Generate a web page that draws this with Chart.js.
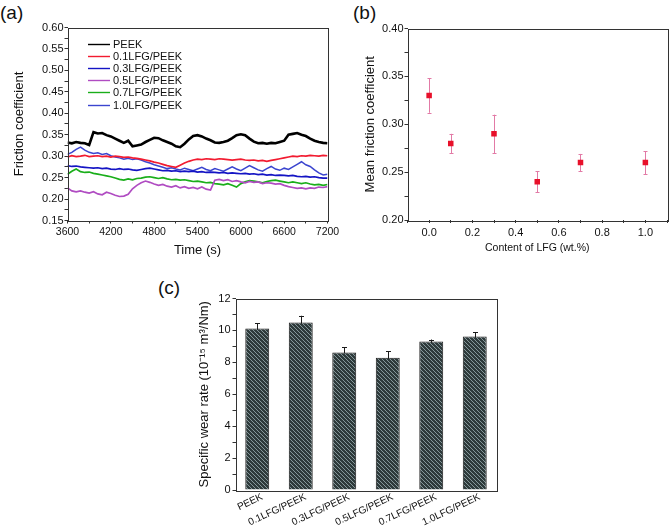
<!DOCTYPE html>
<html><head><meta charset="utf-8">
<script src="https://cdn.jsdelivr.net/npm/chart.js@4"></script>
<style>
html,body{margin:0;padding:0;background:#fff;width:671px;height:531px;overflow:hidden;position:relative;font-family:"Liberation Sans",Arial,sans-serif;}
canvas{position:absolute;}
.lbl{position:absolute;font-size:19px;line-height:19px;color:#111;white-space:nowrap;}
</style></head><body>
<div class="lbl" style="left:0px;top:3px">(a)</div>
<div class="lbl" style="left:353px;top:3px">(b)</div>
<div class="lbl" style="left:158px;top:278px">(c)</div>
<canvas id="cb" width="336" height="265" style="left:335px;top:0px"></canvas>
<canvas id="ca" width="347" height="265" style="left:0px;top:0px"></canvas>
<canvas id="cc" width="400" height="256" style="left:130px;top:275px"></canvas>
<script>
// ---------- data: panel (a) friction coefficient vs time ----------
const times = [3600,3660,3720,3780,3840,3900,3960,4020,4080,4140,4200,4260,4320,4380,4440,4500,4560,4620,4680,4740,4800,4860,4920,4980,5040,5100,5160,5220,5280,5340,5400,5460,5520,5580,5640,5700,5760,5820,5880,5940,6000,6060,6120,6180,6240,6300,6360,6420,6480,6540,6600,6660,6720,6780,6840,6900,6960,7020,7080,7140,7200];
const seriesNames = ['PEEK','0.1LFG/PEEK','0.3LFG/PEEK','0.5LFG/PEEK','0.7LFG/PEEK','1.0LFG/PEEK'];
const fcPEEK = [0.332,0.330,0.333,0.331,0.330,0.326,0.356,0.353,0.354,0.349,
 0.346,0.341,0.336,0.331,0.336,0.323,0.325,0.327,0.333,0.338,
 0.343,0.342,0.337,0.333,0.329,0.323,0.321,0.329,0.339,0.347,
 0.349,0.346,0.341,0.337,0.332,0.331,0.333,0.336,0.342,0.349,
 0.351,0.349,0.341,0.334,0.330,0.331,0.329,0.331,0.330,0.333,
 0.336,0.350,0.352,0.354,0.350,0.347,0.341,0.336,0.333,0.331,
 0.330];
const fc01 = [0.298,0.301,0.299,0.300,0.302,0.299,0.300,0.301,0.299,0.300,
 0.298,0.300,0.299,0.297,0.298,0.296,0.295,0.293,0.291,0.289,
 0.286,0.284,0.281,0.278,0.276,0.274,0.279,0.284,0.288,0.291,
 0.293,0.292,0.294,0.293,0.292,0.294,0.293,0.292,0.291,0.292,
 0.293,0.291,0.290,0.291,0.289,0.290,0.288,0.290,0.292,0.294,
 0.296,0.298,0.300,0.299,0.301,0.300,0.302,0.301,0.300,0.302,
 0.301];
const fc03 = [0.278,0.276,0.277,0.275,0.274,0.273,0.272,0.273,0.271,0.272,
 0.270,0.269,0.271,0.269,0.270,0.268,0.267,0.269,0.271,0.272,
 0.270,0.268,0.266,0.267,0.265,0.266,0.264,0.265,0.264,0.265,
 0.263,0.264,0.262,0.263,0.262,0.261,0.262,0.260,0.261,0.260,
 0.259,0.260,0.258,0.259,0.257,0.258,0.256,0.257,0.255,0.256,
 0.255,0.254,0.255,0.253,0.252,0.253,0.251,0.252,0.250,0.249,
 0.249];
const fc05 = [0.226,0.219,0.217,0.219,0.216,0.214,0.217,0.212,0.210,0.216,
 0.213,0.209,0.206,0.207,0.211,0.224,0.232,0.238,0.242,0.239,
 0.235,0.232,0.234,0.230,0.228,0.231,0.226,0.229,0.225,0.227,
 0.224,0.228,0.223,0.221,0.244,0.246,0.243,0.245,0.241,0.243,
 0.240,0.238,0.241,0.239,0.240,0.236,0.238,0.237,0.235,0.236,
 0.232,0.229,0.227,0.225,0.226,0.224,0.226,0.225,0.228,0.227,
 0.229];
const fc07 = [0.258,0.265,0.270,0.264,0.262,0.263,0.260,0.258,0.256,0.254,
 0.252,0.249,0.246,0.244,0.247,0.245,0.248,0.249,0.251,0.252,
 0.250,0.248,0.250,0.247,0.245,0.246,0.244,0.245,0.243,0.241,
 0.242,0.240,0.238,0.239,0.236,0.235,0.233,0.236,0.232,0.228,
 0.236,0.240,0.243,0.242,0.240,0.238,0.241,0.243,0.244,0.242,
 0.240,0.238,0.240,0.238,0.236,0.238,0.235,0.233,0.234,0.232,
 0.234];
const fc10 = [0.304,0.309,0.316,0.321,0.314,0.309,0.306,0.308,0.304,0.306,
 0.301,0.298,0.296,0.293,0.295,0.292,0.294,0.291,0.287,0.284,
 0.280,0.277,0.274,0.271,0.273,0.270,0.268,0.272,0.269,0.266,
 0.270,0.274,0.269,0.266,0.271,0.268,0.265,0.270,0.275,0.270,
 0.266,0.272,0.278,0.273,0.268,0.265,0.271,0.276,0.270,0.267,
 0.272,0.269,0.275,0.281,0.287,0.280,0.276,0.268,0.261,0.256,
 0.258];

// ---------- data: panel (b) mean friction coefficient ----------
const lfgContent = [0.0, 0.1, 0.3, 0.5, 0.7, 1.0];
const meanFriction = [0.330, 0.280, 0.290, 0.240, 0.260, 0.260];
const meanFrictionErr = [0.018, 0.010, 0.020, 0.011, 0.009, 0.012];

// ---------- data: panel (c) specific wear rate ----------
const wearCategories = ['PEEK','0.1LFG/PEEK','0.3LFG/PEEK','0.5LFG/PEEK','0.7LFG/PEEK','1.0LFG/PEEK'];
const wearRate = [10.12, 10.50, 8.62, 8.29, 9.31, 9.62];
const wearErr = [0.32, 0.42, 0.32, 0.41, 0.12, 0.27];

// ---------- styling ----------
const FONT = '"Liberation Sans", Arial, sans-serif';
Chart.defaults.font.family = FONT;
Chart.defaults.color = '#111';
Chart.defaults.animation = false;
const AX = '#333';
const lineColors = ['#000000','#f21b30','#1414c4','#b04cc2','#1aae1a','#3b45cf'];
const lineWidths = [2.6,1.7,1.7,1.7,1.7,1.5];

function majorLabel(v, step, dec){
  const r = v/step;
  return Math.abs(r - Math.round(r)) < 1e-6 ? Number(v).toFixed(dec) : '';
}
const framePlugin = {
  id:'frame',
  afterDraw(chart){
    const {ctx, chartArea:a} = chart;
    ctx.save(); ctx.strokeStyle = AX; ctx.lineWidth = 1;
    ctx.strokeRect(Math.round(a.left)+0.5, Math.round(a.top)+0.5, Math.round(a.right-a.left), Math.round(a.bottom-a.top));
    ctx.restore();
  }
};
function errorBars(id, values, errs, color, capHalf){
  return {
    id,
    beforeDatasetsDraw(chart){
      const meta = chart.getDatasetMeta(0), ys = chart.scales.y, ctx = chart.ctx;
      ctx.save(); ctx.strokeStyle = color; ctx.lineWidth = 1;
      values.forEach((v,i)=>{
        const el = meta.data[i]; if(!el) return;
        const x = Math.round(el.x)+0.5;
        const y1 = ys.getPixelForValue(v + errs[i]);
        const y2 = ys.getPixelForValue(v - errs[i]);
        ctx.beginPath();
        ctx.moveTo(x, y1); ctx.lineTo(x, y2);
        ctx.moveTo(x-capHalf, Math.round(y1)+0.5); ctx.lineTo(x+capHalf, Math.round(y1)+0.5);
        ctx.moveTo(x-capHalf, Math.round(y2)+0.5); ctx.lineTo(x+capHalf, Math.round(y2)+0.5);
        ctx.stroke();
      });
      ctx.restore();
    }
  };
}
function fixY(w){ return function(s){ s.width = w; s.paddingTop = 0; s.paddingBottom = 0; }; }
function fixX(h){ return function(s){ s.height = h; s.paddingLeft = 0; s.paddingRight = 0; }; }
const gridTicks = {drawOnChartArea:false, drawTicks:true, tickLength:3, tickColor:AX, color:AX};

// ---------- panel (a) ----------
const seriesA = [fcPEEK, fc01, fc03, fc05, fc07, fc10];
const legendA = {
  id:'legendA',
  afterDraw(chart){
    const ctx = chart.ctx;
    ctx.save(); ctx.font = '11px ' + FONT; ctx.textBaseline = 'middle'; ctx.textAlign = 'left';
    chart.data.datasets.forEach((ds,i)=>{
      const y = Math.round(43.5 + i*12.2) + 0.5;
      ctx.strokeStyle = ds.borderColor; ctx.lineWidth = 1.4;
      ctx.beginPath(); ctx.moveTo(88, y); ctx.lineTo(110, y); ctx.stroke();
      ctx.fillStyle = '#111'; ctx.fillText(ds.label, 113, y + 0.5);
    });
    ctx.restore();
  }
};
new Chart(document.getElementById('ca'), {
  type:'line',
  data:{
    datasets: seriesA.map((arr,k)=>({
      label: seriesNames[k],
      data: arr.map((v,i)=>({x: times[i], y: v})),
      borderColor: lineColors[k], backgroundColor: lineColors[k],
      borderWidth: lineWidths[k], pointRadius: 0, tension: 0, fill:false
    }))
  },
  options:{
    responsive:false, devicePixelRatio:1,
    layout:{padding:{top:27.5, right:19.5, left:0, bottom:0}},
    plugins:{legend:{display:false}, tooltip:{enabled:false}},
    scales:{
      x:{type:'linear', min:3600, max:7200,
         afterFit: fixX(44.5),
         border:{display:false}, grid:gridTicks,
         ticks:{stepSize:300, autoSkip:false, maxRotation:0, padding:2, font:{size:10.5}, color:'#111',
                callback:(v)=>majorLabel(v,600,0)},
         title:{display:true, text:'Time (s)', font:{size:13, lineHeight:1.2}, color:'#111', padding:{top:0,bottom:7}}},
      y:{min:0.15, max:0.60,
         afterFit: fixY(67.5),
         border:{display:false}, grid:gridTicks,
         ticks:{stepSize:0.025, autoSkip:false, padding:1, font:{size:11}, color:'#111',
                callback:(v)=>majorLabel(v,0.05,2)},
         title:{display:true, text:'Friction coefficient', font:{size:13, lineHeight:1.2}, color:'#111', padding:{top:12, bottom:0}}}
    }
  },
  plugins:[framePlugin, legendA]
});

// ---------- panel (b) ----------
new Chart(document.getElementById('cb'), {
  type:'scatter',
  data:{
    datasets:[{
      label:'Mean friction coefficient',
      data: lfgContent.map((x,i)=>({x, y: meanFriction[i]})),
      pointStyle:'rect', pointRadius:3.9, pointBackgroundColor:'#e8102a', pointBorderColor:'#e8102a', pointBorderWidth:0
    }]
  },
  options:{
    responsive:false, devicePixelRatio:1,
    layout:{padding:{top:28.5, right:4, left:0, bottom:0}},
    plugins:{legend:{display:false}, tooltip:{enabled:false}},
    scales:{
      x:{type:'linear', min:-0.1, max:1.1,
         afterFit: fixX(45),
         border:{display:false}, grid:gridTicks,
         ticks:{stepSize:0.1, autoSkip:false, maxRotation:0, padding:3, font:{size:11}, color:'#111',
                callback:(v)=>majorLabel(v,0.2,1)},
         title:{display:true, text:'Content of LFG (wt.%)', font:{size:10.5, lineHeight:1.2}, color:'#111', padding:{top:0,bottom:10.5}}},
      y:{min:0.20, max:0.40,
         afterFit: fixY(72.5),
         border:{display:false}, grid:gridTicks,
         ticks:{stepSize:0.025, autoSkip:false, padding:1, font:{size:11}, color:'#111',
                callback:(v)=>majorLabel(v,0.05,2)},
         title:{display:true, text:'Mean friction coefficient', font:{size:13, lineHeight:1.2}, color:'#111', padding:{top:28, bottom:0}}}
    }
  },
  plugins:[framePlugin, errorBars('errB', meanFriction, meanFrictionErr, '#e27aa6', 2)]
});

// ---------- panel (c) ----------
const cc = document.getElementById('cc');
function hatch(){
  const c = document.createElement('canvas'); c.width = 4; c.height = 4;
  const g = c.getContext('2d');
  g.fillStyle = '#2e3a3b'; g.fillRect(0,0,4,4);
  g.strokeStyle = '#85979a'; g.lineWidth = 1;
  g.beginPath();
  for (const k of [-4,0,4]) { g.moveTo(k,0); g.lineTo(k+4,4); }
  g.stroke();
  return cc.getContext('2d').createPattern(c,'repeat');
}
new Chart(cc, {
  type:'bar',
  data:{
    labels: wearCategories,
    datasets:[{
      label:'Specific wear rate',
      data: wearRate,
      backgroundColor: hatch(), borderColor:'#1b1b1b', borderWidth:1,
      barPercentage:0.55, categoryPercentage:1
    }]
  },
  options:{
    responsive:false, devicePixelRatio:1,
    layout:{padding:{top:23.5, right:33.5, left:0, bottom:0}},
    plugins:{legend:{display:false}, tooltip:{enabled:false}},
    scales:{
      x:{afterFit: fixX(41),
         border:{display:false}, grid:{display:false},
         ticks:{autoSkip:false, minRotation:25, maxRotation:25, padding:-7, labelOffset:5, font:{size:10}, color:'#111'}},
      y:{min:0, max:12,
         afterFit: fixY(105.5),
         border:{display:false}, grid:gridTicks,
         ticks:{stepSize:1, autoSkip:false, padding:2, font:{size:11}, color:'#111',
                callback:(v)=>majorLabel(v,2,0)},
         title:{display:true, text:'Specific wear rate (10\u207B\u00B9\u2075 m\u00B3/Nm)', font:{size:13, lineHeight:1.2}, color:'#111', padding:{top:67, bottom:0}}}
    }
  },
  plugins:[framePlugin, errorBars('errC', wearRate, wearErr, '#1b1b1b', 2.5)]
});
</script>
</body></html>
